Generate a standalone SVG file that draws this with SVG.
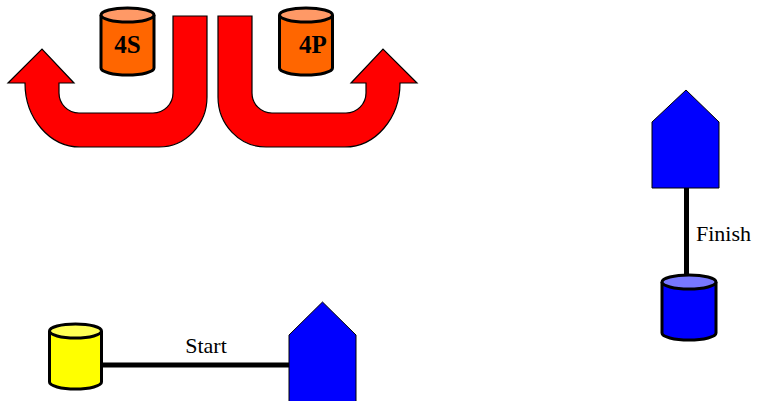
<svg xmlns="http://www.w3.org/2000/svg" width="758" height="401" viewBox="0 0 758 401">
<style>
.arrow{fill:#FF0000;stroke:#000;stroke-width:1.2;stroke-linejoin:miter}
.cyl{stroke:#000;stroke-width:3}
.house{fill:#0000FF;stroke:#000;stroke-width:1}
.conn{stroke:#000;stroke-width:5;fill:none}
.lbl{font-family:"Liberation Serif","Times New Roman",serif;font-size:22px;fill:#000}
.cl{font-family:"Liberation Serif","Times New Roman",serif;font-size:25px;font-weight:bold;fill:#000;text-anchor:middle}
</style>
<rect width="758" height="401" fill="#fff"/>
<g id="arrow-left">
<path class="arrow" d="M173,16 H207 V97 A48,50 0 0 1 159,147 H80 A55,64 0 0 1 25,83 H8 L42,49 L74,83 H59 V93 A20,20 0 0 0 79,113 H153 A20,20 0 0 0 173,93 Z"/>
</g>
<g id="arrow-right">
<path class="arrow" d="M252,16 H218 V97 A48,50 0 0 0 266,147 H345 A55,64 0 0 0 400,83 H417 L383,49 L351,83 H366 V93 A20,20 0 0 1 346,113 H272 A20,20 0 0 1 252,93 Z"/>
</g>
<g id="cyl-4S">
<path class="cyl" fill="#FF6600" d="M101,15 V68 A26.5,7 0 0 0 154,68 V15"/>
<ellipse class="cyl" cx="127.5" cy="15" rx="26.5" ry="7" fill="#FF9966"/>
<text class="cl" x="127.5" y="53">4S</text>
</g>
<g id="cyl-4P">
<path class="cyl" fill="#FF6600" d="M279.5,15 V68 A26.5,7 0 0 0 332.5,68 V15"/>
<ellipse class="cyl" cx="306" cy="15" rx="26.5" ry="7" fill="#FF9966"/>
<text class="cl" x="313" y="53">4P</text>
</g>
<g id="connectors">
<line class="conn" x1="686.5" y1="188" x2="686.5" y2="276"/>
<line class="conn" x1="102" y1="365" x2="290" y2="365"/>
</g>
<g id="labels">
<text class="lbl" x="696" y="241">Finish</text>
<text class="lbl" x="206" y="353" text-anchor="middle">Start</text>
</g>
<g id="house-finish">
<polygon class="house" points="686,90 719,122 719,188 652,188 652,122"/>
</g>
<g id="cyl-finish">
<path class="cyl" stroke-width="3.5" fill="#0000FF" d="M662,282 V333 A27,7 0 0 0 716,333 V282"/>
<ellipse class="cyl" stroke-width="3.5" cx="689" cy="282" rx="27" ry="7" fill="#7777FF"/>
</g>
<g id="cyl-start">
<path class="cyl" stroke-width="3.5" fill="#FFFF00" d="M49.5,331 V382 A26,7 0 0 0 101.5,382 V331"/>
<ellipse class="cyl" stroke-width="3.5" cx="75.5" cy="331" rx="26" ry="7" fill="#FFFF55"/>
</g>
<g id="house-start">
<polygon class="house" points="322.5,302 356,335 356,402 289,402 289,335"/>
</g>
</svg>
